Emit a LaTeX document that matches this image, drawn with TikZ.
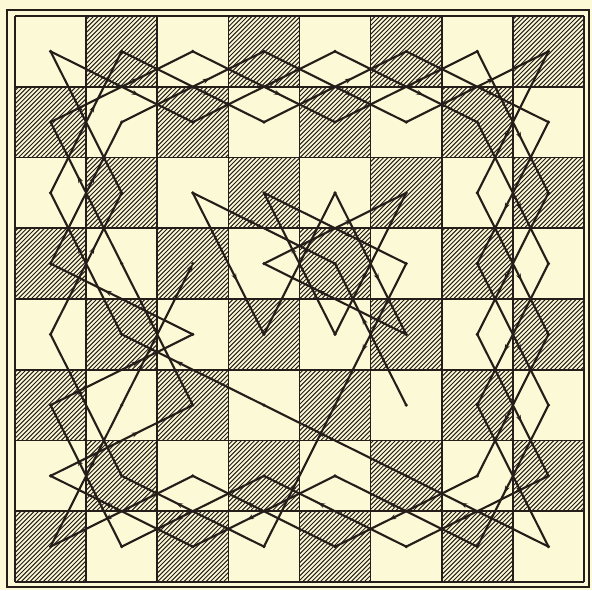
\documentclass[tikz,border=0pt]{standalone}
\usepackage{tikz}
\usetikzlibrary{arrows.meta,decorations.markings}
\usepackage{xcolor}
\definecolor{Paper}{RGB}{252,249,214}
\definecolor{Ink}{RGB}{36,30,26}

\begin{document}
\begin{tikzpicture}[x=0.05cm, y=-0.05cm,
    frame/.style={draw=Ink, line width=4.2pt},
    rule/.style={draw=Ink, line width=2.2pt},
    hatch/.style={draw=Ink, line width=1.4pt},
    move/.style={draw=Ink, line width=3pt, line cap=round,
                 postaction={decorate},
                 decoration={markings, mark=at position 0.62 with {\arrow{Stealth[length=10pt,width=7pt]}}}},
    lastmove/.style={draw=Ink, line width=3pt, line cap=round, -{Stealth[length=11pt,width=8pt]}}
]
    \useasboundingbox (0,0) rectangle (592,590);
    \fill[Paper] (0,0) rectangle (592,590);

    % square centres, column then row
    \foreach \c in {1,...,8}
        \foreach \r in {1,...,8}
            \coordinate (s\c\r) at ({15+71.125*(\c-0.5)},{16+70.75*(\r-0.5)});

    % hatched squares
    \begin{scope}
        \clip \foreach \r/\s in {1/2,2/1,3/2,4/1,5/2,6/1,7/2,8/1} {
            \foreach \k in {0,...,3} {
                ({15+71.125*(\s+2*\k-1)},{16+70.75*(\r-1)}) rectangle +(71.125,70.75)
            }
        };
        \foreach \k in {-600,-595.6,...,600}
            \draw[hatch] (\k,600) -- (\k+600,0);
    \end{scope}

    % board lines
    \foreach \i in {0,...,8} {
        \draw[rule] ({15+71.125*\i},16) -- ({15+71.125*\i},582);
        \draw[rule] (15,{16+70.75*\i}) -- (584,{16+70.75*\i});
    }
    \draw[frame] (7,10) rectangle (589,587);

    % the tour
    \foreach \b [remember=\b as \a (initially 66)] in
        {54,33,45,53,65,44,63,55,43,64,56,48,27,15,23,11,32,51,72,84,76,88,67,46,25,13,
         21,42,61,82,74,86,78,57,38,17,36,24,12,31,52,71,83,75,87,68,47,28,16,35,14,22,
         41,62,81,73,85,77,58,37,18,26}
        \draw[move] (s\a) -- (s\b);
    \draw[lastmove] (s26) -- (s34);

    \foreach \c in {1,...,8}
        \foreach \r in {1,...,8}
            \fill[Ink] (s\c\r) circle (1.8);
\end{tikzpicture}
\end{document}
